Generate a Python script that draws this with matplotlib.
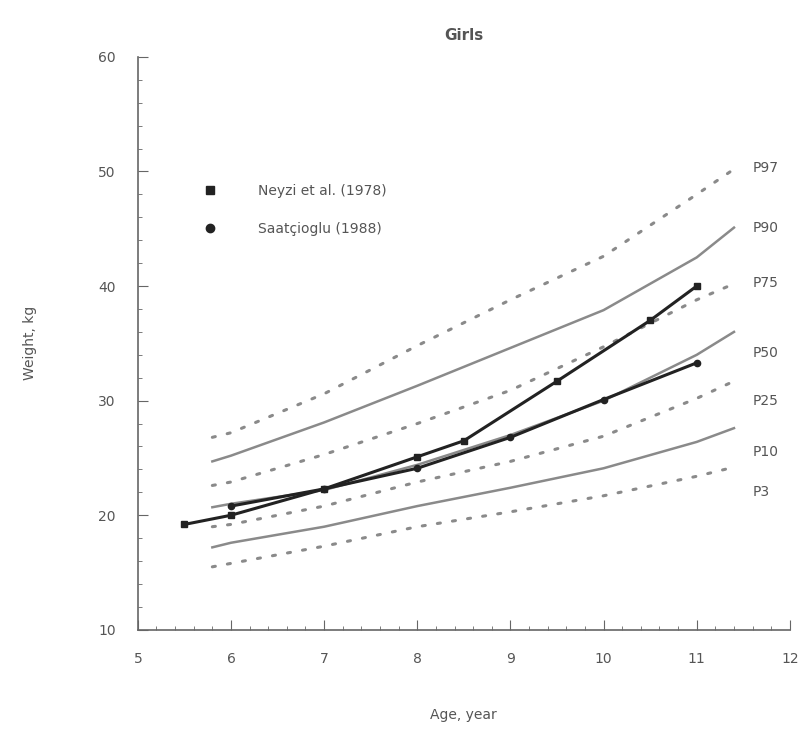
import matplotlib
matplotlib.use("Agg")
import matplotlib.pyplot as plt
from matplotlib.lines import Line2D
from matplotlib.ticker import MultipleLocator

# Percentile reference curves (age in years, weight in kg)
pct_ages = [5.8, 6, 7, 8, 9, 10, 11, 11.4]
P97 = [26.8, 27.2, 30.6, 34.8, 38.8, 42.6, 48.0, 50.2]
P90 = [24.7, 25.2, 28.1, 31.3, 34.6, 37.9, 42.5, 45.1]
P75 = [22.6, 22.9, 25.3, 28.0, 30.9, 34.7, 38.8, 40.2]
P50 = [20.7, 21.0, 22.2, 24.4, 27.0, 30.0, 34.0, 36.0]
P25 = [19.0, 19.2, 20.8, 22.9, 24.7, 26.9, 30.2, 31.7]
P10 = [17.2, 17.6, 19.0, 20.8, 22.4, 24.1, 26.4, 27.6]
P3 = [15.5, 15.8, 17.3, 19.0, 20.3, 21.7, 23.4, 24.2]
pct_names = ["P97", "P90", "P75", "P50", "P25", "P10", "P3"]
pct_label_y = [50.3, 45.1, 40.3, 34.2, 30.0, 25.5, 22.0]

# Study data
neyzi_ages = [5.5, 6, 7, 8, 8.5, 9.5, 10.5, 11]
neyzi_wt = [19.2, 20.0, 22.3, 25.1, 26.5, 31.7, 37.0, 40.0]
saat_ages = [6, 7, 8, 9, 10, 11]
saat_wt = [20.8, 22.3, 24.1, 26.8, 30.1, 33.3]

x_ticks = [5, 6, 7, 8, 9, 10, 11, 12]
y_ticks = [10, 20, 30, 40, 50, 60]

fig = plt.figure(figsize=(8.06, 7.29), dpi=100)
ax = fig.add_axes([0.171, 0.136, 0.809, 0.786])

grey = "#8a8a8a"
dotted = (0, (1, 4))
curves = [P97, P90, P75, P50, P25, P10, P3]
for i, c in enumerate(curves):
    if i % 2 == 0:
        ax.plot(pct_ages, c, color=grey, lw=2.2, linestyle=dotted,
                dash_capstyle="round")
    else:
        ax.plot(pct_ages, c, color=grey, lw=1.8)

for name, yv in zip(pct_names, pct_label_y):
    ax.text(11.6, yv, name, color="#555555", fontsize=10, va="center",
            ha="left")

dark = "#222222"
ax.plot(neyzi_ages, neyzi_wt, color=dark, lw=2.2, marker="s", ms=4.5,
        zorder=5)
ax.plot(saat_ages, saat_wt, color=dark, lw=2.2, marker="o", ms=4.5, zorder=5)

handles = [
    Line2D([], [], color=dark, marker="s", ls="none", ms=6),
    Line2D([], [], color=dark, marker="o", ls="none", ms=6),
]
ax.legend(handles, ["Neyzi et al. (1978)", "Saatçioglu (1988)"],
          loc="upper left", bbox_to_anchor=(0.075, 0.795), frameon=False,
          fontsize=10, labelcolor="#555555", handletextpad=2.4,
          labelspacing=1.7, borderpad=0.2)

ax.set_xlim(5, 12)
ax.set_ylim(10, 60)
ax.set_xticks(x_ticks)
ax.set_yticks(y_ticks)
ax.xaxis.set_minor_locator(MultipleLocator(0.2))
ax.yaxis.set_minor_locator(MultipleLocator(2))
ax.tick_params(which="both", direction="in", colors="#666666",
               labelcolor="#555555", labelsize=10)
ax.tick_params(axis="x", which="major", length=7, pad=16)
ax.tick_params(axis="y", which="major", length=7, pad=16)
ax.tick_params(which="minor", length=3)
for s in ["top", "right"]:
    ax.spines[s].set_visible(False)
for s in ["left", "bottom"]:
    ax.spines[s].set_color("#666666")
    ax.spines[s].set_linewidth(1.2)

ax.set_title("Girls", color="#555555", fontsize=11, fontweight="bold",
             pad=12)
ax.set_xlabel("Age, year", color="#555555", fontsize=10, labelpad=30)
ax.set_ylabel("Weight, kg", color="#555555", fontsize=10, labelpad=44)

fig.savefig("out.png", dpi=100)
